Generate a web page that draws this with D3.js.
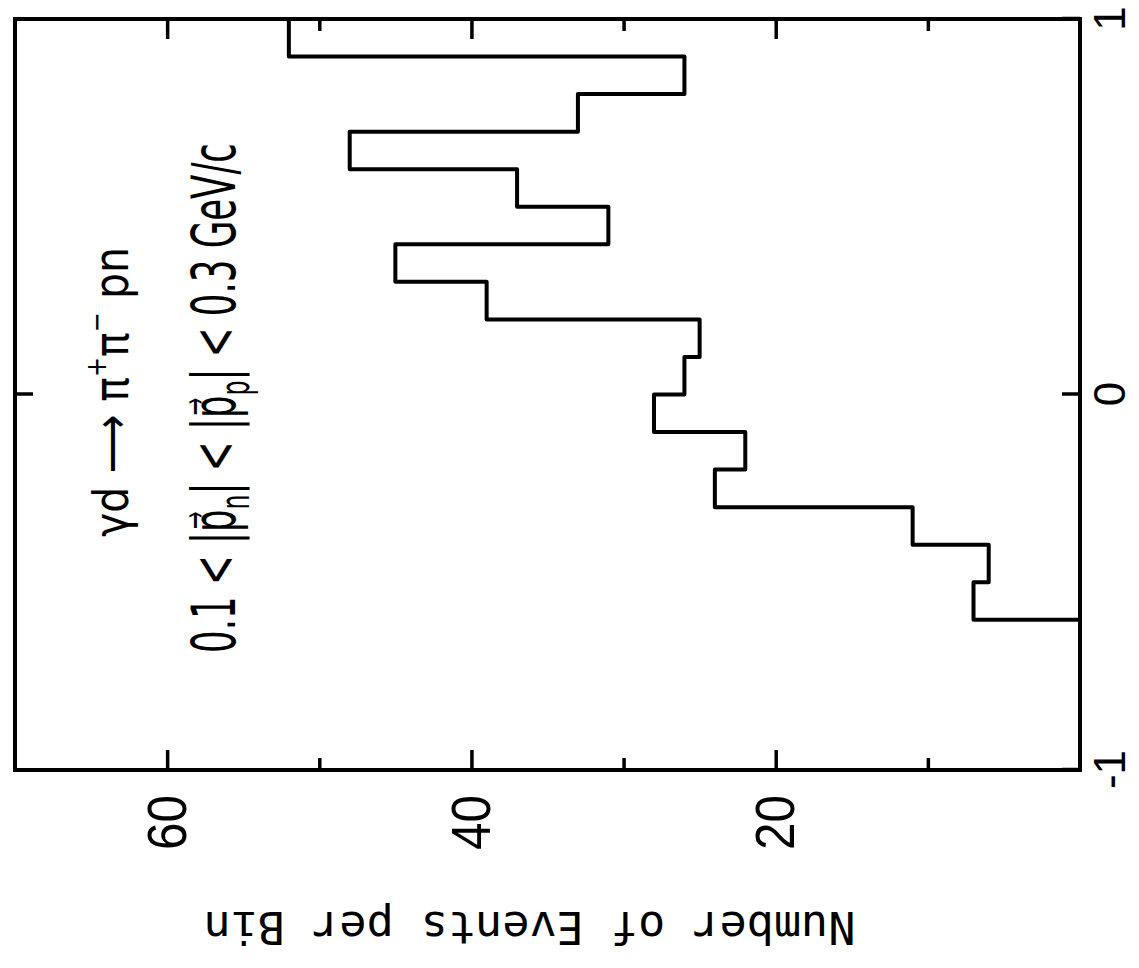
<!DOCTYPE html>
<html>
<head>
<meta charset="utf-8">
<script src="https://cdn.jsdelivr.net/npm/d3@7"></script>
<style>
  body { margin: 0; background: #fff; }
</style>
</head>
<body>
<svg id="chart" width="1139" height="968"></svg>
<script>
// histogram bins (width 0.1), nothing below -0.6
const binEdges = [-0.6, -0.5, -0.4, -0.3, -0.2, -0.1, 0.0, 0.1, 0.2, 0.3, 0.4, 0.5, 0.6, 0.7, 0.8, 0.9, 1.0];
const counts = [7, 6, 11, 24, 22, 28, 26, 25, 39, 45, 31, 37, 48, 33, 26, 52];
const countMajor = [20, 40, 60];
const countMinor = [10, 30, 50];
const xTicks = [-1, 0, 1];

const svg = d3.select("#chart");

// the figure is drawn upright and then turned 90 degrees to the left
const pw = 751, ph = 1065;
const g = svg.append("g").attr("transform", "translate(15,770) rotate(-90)");

const x = d3.scaleLinear().domain([-1, 1]).range([0, pw]);
const y = d3.scaleLinear().domain([0, 70]).range([ph, 0]);

const tickFont = "'Liberation Sans', Arial, Helvetica, sans-serif";

// count axis, ticks inward on both sides
function countAxis(axis, vals, size, tx) {
    const a = g.append("g")
        .attr("transform", `translate(${tx},0)`)
        .call(axis(y).tickValues(vals).tickSize(-size).tickFormat(""));
    a.select(".domain").remove();
    a.selectAll("line").attr("stroke", "#000").attr("stroke-width", 3.5);
    return a;
}
countAxis(d3.axisLeft, countMajor, 20, 0);
countAxis(d3.axisLeft, countMinor, 12, 0);
countAxis(d3.axisRight, countMajor, 20, pw);
countAxis(d3.axisRight, countMinor, 12, pw);

const yLab = g.append("g")
    .call(d3.axisLeft(y).tickValues(countMajor).tickSize(0).tickPadding(25));
yLab.select(".domain").remove();
yLab.selectAll("text")
    .attr("font-family", tickFont)
    .attr("font-size", 56)
    .attr("fill", "#000")
    .attr("textLength", 55)
    .attr("lengthAdjust", "spacingAndGlyphs");

// x axis: tick at 0 on both edges, labels below
const xAx = g.append("g")
    .attr("transform", `translate(0,${ph})`)
    .call(d3.axisBottom(x).tickValues(xTicks).tickSize(-18).tickPadding(14).tickFormat(d3.format("d")));
xAx.select(".domain").remove();
xAx.selectAll("line").attr("stroke", "#000").attr("stroke-width", 3.5);
xAx.selectAll("text")
    .attr("font-family", tickFont)
    .attr("font-size", 44)
    .attr("fill", "#000")
    .text(d => d < 0 ? "-1" : d);

const xTop = g.append("g")
    .call(d3.axisTop(x).tickValues([0]).tickSize(-18).tickFormat(""));
xTop.select(".domain").remove();
xTop.selectAll("line").attr("stroke", "#000").attr("stroke-width", 3.5);

// frame
g.append("rect")
    .attr("width", pw)
    .attr("height", ph)
    .attr("fill", "none")
    .attr("stroke", "#000")
    .attr("stroke-width", 4);

// histogram outline
const pts = [[binEdges[0], 0]];
counts.forEach((c, i) => {
    pts.push([binEdges[i], c]);
    pts.push([binEdges[i + 1], c]);
});
g.append("path")
    .datum(pts)
    .attr("d", d3.line().x(d => x(d[0])).y(d => y(d[1])))
    .attr("fill", "none")
    .attr("stroke", "#000")
    .attr("stroke-width", 4)
    .attr("stroke-linejoin", "round");

// y title
g.append("text")
    .attr("transform", `translate(-142,${ph / 2 - 18}) rotate(-90)`)
    .attr("text-anchor", "middle")
    .attr("font-family", "'DejaVu Sans Mono', monospace")
    .attr("font-size", 45)
    .attr("textLength", 652)
    .attr("lengthAdjust", "spacingAndGlyphs")
    .text("Number of Events per Bin");

// annotations, squeezed to match the narrow lettering
function squeeze(sel, cx, base, width) {
    const w = sel.node().getBBox().width;
    sel.attr("transform", `translate(${cx},${base}) scale(${width / w},1)`);
}

const annFont = "'DejaVu Sans', 'Liberation Sans', sans-serif";

const a1 = g.append("text")
    .attr("text-anchor", "middle")
    .attr("font-family", annFont)
    .attr("font-size", 48);
a1.append("tspan").text("\u03B3d \u27F6 \u03C0");
a1.append("tspan").attr("font-size", 28).attr("dy", -22).text("+");
a1.append("tspan").attr("dy", 22).text("\u03C0");
a1.append("tspan").attr("font-size", 28).attr("dy", -22).text("\u2212");
a1.append("tspan").attr("dy", 22).text(" pn");
squeeze(a1, 378, 113, 290);

const a2 = g.append("text")
    .attr("text-anchor", "middle")
    .attr("font-family", annFont)
    .attr("font-size", 60);
a2.append("tspan").text("0.1 < |p\u20D7");
a2.append("tspan").attr("font-size", 40).attr("dy", 14).text("n");
a2.append("tspan").attr("dy", -14).text("| < |p\u20D7");
a2.append("tspan").attr("font-size", 40).attr("dy", 14).text("p");
a2.append("tspan").attr("dy", -14).text("| < 0.3 GeV/c");
squeeze(a2, 372, 220, 510);
</script>
</body>
</html>
